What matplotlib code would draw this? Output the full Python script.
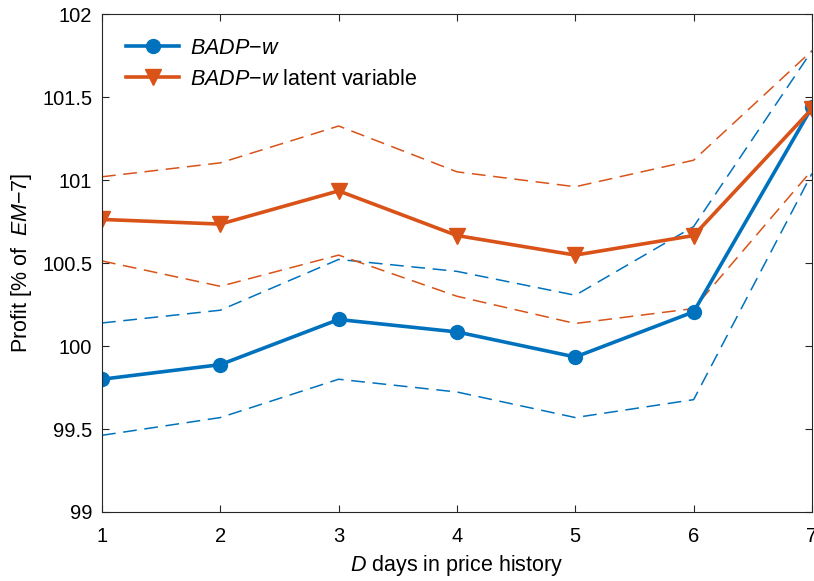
import matplotlib
matplotlib.use("Agg")
import matplotlib.pyplot as plt

plt.rcParams['font.family'] = ['Liberation Sans', 'DejaVu Sans']
plt.rcParams['mathtext.fontset'] = 'custom'
plt.rcParams['mathtext.rm'] = 'Liberation Sans'
plt.rcParams['mathtext.it'] = 'Liberation Sans:italic'
plt.rcParams['mathtext.bf'] = 'Liberation Sans:bold'

days = [1, 2, 3, 4, 5, 6, 7]
badp_mean = [99.80, 99.888, 100.16, 100.085, 99.934, 100.206, 101.44]
badp_upper = [100.139, 100.216, 100.522, 100.45, 100.306, 100.72, 101.78]
badp_lower = [99.462, 99.569, 99.80, 99.723, 99.569, 99.677, 101.04]
latent_mean = [100.763, 100.735, 100.935, 100.666, 100.548, 100.666, 101.43]
latent_upper = [101.02, 101.104, 101.326, 101.05, 100.96, 101.12, 101.78]
latent_lower = [100.513, 100.36, 100.548, 100.30, 100.136, 100.226, 101.06]

xticks = [1, 2, 3, 4, 5, 6, 7]
yticks = [99, 99.5, 100, 100.5, 101, 101.5, 102]
ytick_labels = ['99', '99.5', '100', '100.5', '101', '101.5', '102']

blue = '#0072BD'
orange = '#D95319'

fig = plt.figure(figsize=(8.14, 5.81), dpi=100)
ax = fig.add_axes([0.1253, 0.1188, 0.8722, 0.8568])

dash = (9, 5)
ax.plot(days, badp_upper, color=blue, lw=1.1, dashes=dash)
ax.plot(days, badp_lower, color=blue, lw=1.1, dashes=dash)
ax.plot(days, latent_upper, color=orange, lw=1.1, dashes=dash)
ax.plot(days, latent_lower, color=orange, lw=1.1, dashes=dash)

l1, = ax.plot(days, badp_mean, color=blue, lw=2.6, marker='o', markersize=10,
              label=r'$\mathit{BADP{-}w}$')
l2, = ax.plot(days, latent_mean, color=orange, lw=2.6, marker='v', markersize=11,
              label=r'$\mathit{BADP{-}w}$ latent variable')

ax.set_xlim(1, 7)
ax.set_ylim(99, 102)
ax.set_xticks(xticks)
ax.set_yticks(yticks)
ax.set_yticklabels(ytick_labels)
ax.tick_params(direction='in', length=5, width=0.8, top=True, right=True,
               labelsize=14.5, colors='#262626', labelcolor='black')
ax.tick_params(axis='x', pad=10.5)
ax.tick_params(axis='y', pad=7)
for s in ax.spines.values():
    s.set_color('#262626')
    s.set_linewidth(0.8)

ax.set_xlabel(r'$\mathit{D}$ days in price history', fontsize=15.5, labelpad=5)
ax.set_ylabel(r'Profit [% of  $\mathit{EM{-}7}$]', fontsize=15.5, labelpad=6)

leg = ax.legend(handles=[l1, l2], loc='upper left', frameon=False, fontsize=15.5,
                handlelength=2.5, borderaxespad=0.7, labelspacing=0.45,
                handletextpad=0.5)

fig.savefig('out.png', dpi=100)
